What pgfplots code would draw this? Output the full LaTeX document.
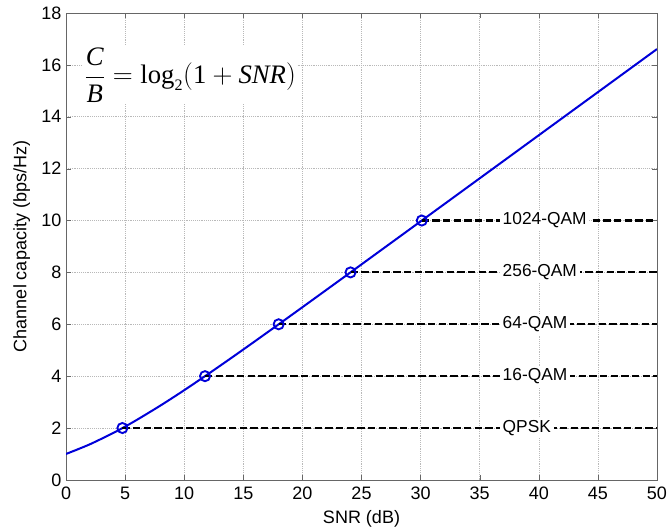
\documentclass[border=0pt]{standalone}
\usepackage{pgfplots}
\pgfplotsset{compat=1.18}
\usepackage[no-math]{fontspec}
\setmainfont{Liberation Sans}
\newfontfamily\tms{Liberation Serif}
\begin{document}
\begin{tikzpicture}
\begin{axis}[
  name=ax,
  width=443pt, height=350pt, scale only axis,
  xmin=0, xmax=50, ymin=0, ymax=18,
  xtick={0,5,...,50}, ytick={0,2,...,18},
  tick align=inside,
  major tick length=4pt,
  grid=major,
  grid style={densely dotted, gray!55, line width=0.4pt},
  axis line style={black!60, line width=0.6pt},
  tick style={black!60},
  every tick label/.append style={font=\fontsize{13.5}{15}\selectfont},
  xticklabel style={yshift=-2pt},
  /pgf/number format/assume math mode=true,
  xlabel={SNR (dB)}, ylabel={Channel capacity (bps/Hz)},
  label style={font=\fontsize{13.5}{15}\selectfont},
  xlabel style={yshift=-1pt},
  ylabel style={yshift=1.5pt},
]
\addplot[blue!85!black, line width=1.5pt, smooth] coordinates {
 (0,1.000) (2,1.370) (4,1.812) (5,2.057) (6,2.317) (8,2.870) (10,3.459)
 (12,4.075) (14,4.707) (16,5.351) (18,6.002) (20,6.658) (22,7.317)
 (25,8.309) (30,9.967) (35,11.627) (40,13.288) (45,14.949) (50,16.610)};
\addplot[black, line width=1.6pt, dash pattern=on 5.5pt off 2.5pt] coordinates {(4.77,2) (50,2)};
\addplot[black, line width=1.6pt, dash pattern=on 5.5pt off 2.5pt] coordinates {(11.76,4) (50,4)};
\addplot[black, line width=1.6pt, dash pattern=on 5.5pt off 2.5pt] coordinates {(17.99,6) (50,6)};
\addplot[black, line width=1.6pt, dash pattern=on 5.5pt off 2.5pt] coordinates {(24.07,8) (50,8)};
\addplot[black, line width=1.6pt, dash pattern=on 5.5pt off 2.5pt] coordinates {(30.10,10) (50,10)};
\addplot[only marks, mark=o, mark size=3.8pt, blue!85!black, mark options={line width=1.4pt}] coordinates {
 (4.77,2) (11.76,4) (17.99,6) (24.07,8) (30.10,10)};
\begin{scope}[every node/.style={anchor=west, fill=white, inner sep=2pt, font=\fontsize{13}{15}\selectfont}]
\node at (axis cs:36.7,2) {QPSK};
\node at (axis cs:36.7,4) {16-QAM};
\node at (axis cs:36.7,6) {64-QAM};
\node at (axis cs:36.7,8) {256-QAM};
\node at (axis cs:36.7,10) {1024-QAM};
\end{scope}
\node[anchor=west, fill=white, inner sep=1pt, font=\fontsize{20}{24}\selectfont] at (axis cs:1.4,15.6)
 {$\displaystyle \frac{\mbox{\tms\itshape C}}{\mbox{\tms\itshape B}} = \mbox{\tms log}_{\mbox{\tms\fontsize{12}{12}\selectfont 2}}\Bigl(\mbox{\tms 1}+\mbox{\tms\itshape SNR}\Bigr)$};
\end{axis}
\pgfresetboundingbox
\path ([shift={(-49.5pt,-37.5pt)}]ax.south west) rectangle ([shift={(7.5pt,9.75pt)}]ax.north east);
\end{tikzpicture}
\end{document}
